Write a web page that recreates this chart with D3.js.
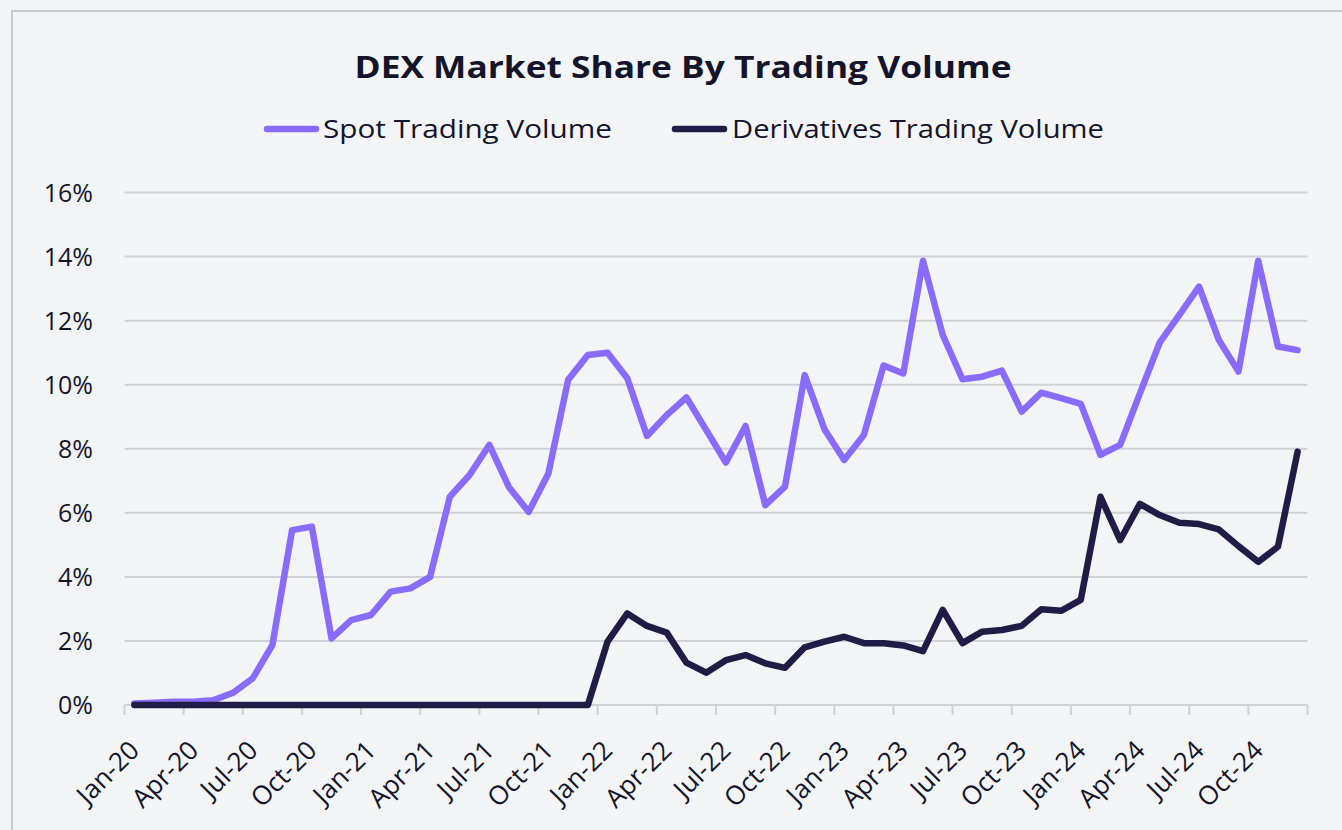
<!DOCTYPE html>
<html>
<head>
<meta charset="utf-8">
<script src="https://cdn.jsdelivr.net/npm/d3@7"></script>
<style>
  html, body { margin: 0; padding: 0; background: #f3f4f6; }
  svg { display: block; font-family: "Open Sans", "Noto Sans", sans-serif; }
</style>
</head>
<body>
<svg id="chart" width="1342" height="830"></svg>
<script>
// Monthly categories, Jan 2020 through Dec 2024
const months = d3.timeMonths(new Date(2020, 0, 1), new Date(2025, 0, 1));
const categories = months.map(d3.timeFormat("%b-%y"));

// DEX share of total trading volume, in percent
const spotShare = [
  0.05, 0.07, 0.10, 0.10, 0.15, 0.38, 0.83, 1.87, 5.46, 5.57, 2.08, 2.65,
  2.81, 3.54, 3.64, 4.00, 6.50, 7.18, 8.12, 6.80, 6.03, 7.23, 10.15, 10.93,
  11.00, 10.20, 8.40, 9.05, 9.60, 8.59, 7.57, 8.71, 6.24, 6.82, 10.30, 8.61,
  7.65, 8.43, 10.60, 10.35, 13.87, 11.55, 10.17, 10.25, 10.44, 9.16, 9.75, 9.58,
  9.40, 7.81, 8.12, 9.73, 11.31, 12.18, 13.06, 11.40, 10.41, 13.87, 11.19, 11.08
];
const derivativesShare = [
  0, 0, 0, 0, 0, 0, 0, 0, 0, 0, 0, 0,
  0, 0, 0, 0, 0, 0, 0, 0, 0, 0, 0, 0,
  1.98, 2.86, 2.47, 2.26, 1.32, 1.01, 1.40, 1.56, 1.30, 1.16, 1.80, 1.98,
  2.13, 1.93, 1.93, 1.86, 1.68, 2.97, 1.93, 2.29, 2.34, 2.47, 2.99, 2.94,
  3.28, 6.50, 5.15, 6.28, 5.93, 5.69, 5.65, 5.48, 4.96, 4.47, 4.94, 7.91
];

const yTicks = [0, 2, 4, 6, 8, 10, 12, 14, 16];
const seriesNames = ["Spot Trading Volume", "Derivatives Trading Volume"];
const seriesColors = ["#8a6bff", "#1f1d45"];
const title = "DEX Market Share By Trading Volume";

const svg = d3.select("#chart");
const ink = "#14142b";
const gridColor = "#d0d1d6";

// frame
svg.append("path")
  .attr("d", "M12,830 V11 H1342")
  .attr("fill", "none")
  .attr("stroke", "#c9cacf")
  .attr("stroke-width", 2);

const x = d3.scaleBand().domain(categories).range([124.5, 1307.5]);
const y = d3.scaleLinear().domain([0, 16]).range([705, 192.5]);
const cx = c => x(c) + x.bandwidth() / 2;

// horizontal gridlines
svg.append("g")
  .selectAll("line")
  .data(yTicks.filter(t => t > 0))
  .join("line")
  .attr("x1", x.range()[0]).attr("x2", x.range()[1])
  .attr("y1", d => y(d)).attr("y2", d => y(d))
  .attr("stroke", gridColor).attr("stroke-width", 2);

// y axis labels
svg.append("g")
  .selectAll("text")
  .data(yTicks)
  .join("text")
  .attr("x", 93)
  .attr("y", d => y(d))
  .attr("dy", "0.36em")
  .attr("text-anchor", "end")
  .attr("fill", ink)
  .attr("font-size", 25)
  .text(d => d + "%");

// x axis: baseline with ticks on quarter boundaries
const xAxis = svg.append("g").attr("transform", `translate(0,${y(0)})`);
xAxis.append("line")
  .attr("x1", x.range()[0]).attr("x2", x.range()[1])
  .attr("stroke", gridColor).attr("stroke-width", 2);
const tickCats = categories.filter((c, i) => i % 3 === 0);
const boundaries = tickCats.map(c => x(c)).concat([x.range()[1]]);
xAxis.selectAll("line.tick")
  .data(boundaries)
  .join("line")
  .attr("class", "tick")
  .attr("x1", d => d).attr("x2", d => d)
  .attr("y1", 0).attr("y2", 10)
  .attr("stroke", gridColor).attr("stroke-width", 2);
xAxis.selectAll("text")
  .data(tickCats)
  .join("text")
  .attr("transform", d => `translate(${cx(d) + 6.5},${47}) rotate(-45)`)
  .attr("text-anchor", "end")
  .attr("fill", ink)
  .attr("font-size", 26)
  .text(d => d);

// series lines
const line = d3.line()
  .x((d, i) => cx(categories[i]))
  .y(d => y(d));

[spotShare, derivativesShare].forEach((vals, k) => {
  svg.append("path")
    .datum(vals)
    .attr("d", line)
    .attr("fill", "none")
    .attr("stroke", seriesColors[k])
    .attr("stroke-width", 6.5)
    .attr("stroke-linejoin", "round")
    .attr("stroke-linecap", "round");
});

// title
svg.append("text")
  .attr("x", 683).attr("y", 78)
  .attr("text-anchor", "middle")
  .attr("fill", ink)
  .attr("font-size", 31)
  .attr("font-weight", 700)
  .attr("textLength", 657)
  .attr("lengthAdjust", "spacingAndGlyphs")
  .text(title);

// legend
const legendItems = [
  { name: seriesNames[0], color: seriesColors[0], x0: 267, tx: 323, width: 289 },
  { name: seriesNames[1], color: seriesColors[1], x0: 675, tx: 732, width: 372 }
];
const legend = svg.append("g");
legendItems.forEach(item => {
  legend.append("line")
    .attr("x1", item.x0).attr("x2", item.x0 + 49)
    .attr("y1", 129).attr("y2", 129)
    .attr("stroke", item.color).attr("stroke-width", 6.5)
    .attr("stroke-linecap", "round");
  legend.append("text")
    .attr("x", item.tx).attr("y", 138)
    .attr("fill", ink)
    .attr("font-size", 25)
    .attr("textLength", item.width)
    .attr("lengthAdjust", "spacingAndGlyphs")
    .text(item.name);
});
</script>
</body>
</html>
